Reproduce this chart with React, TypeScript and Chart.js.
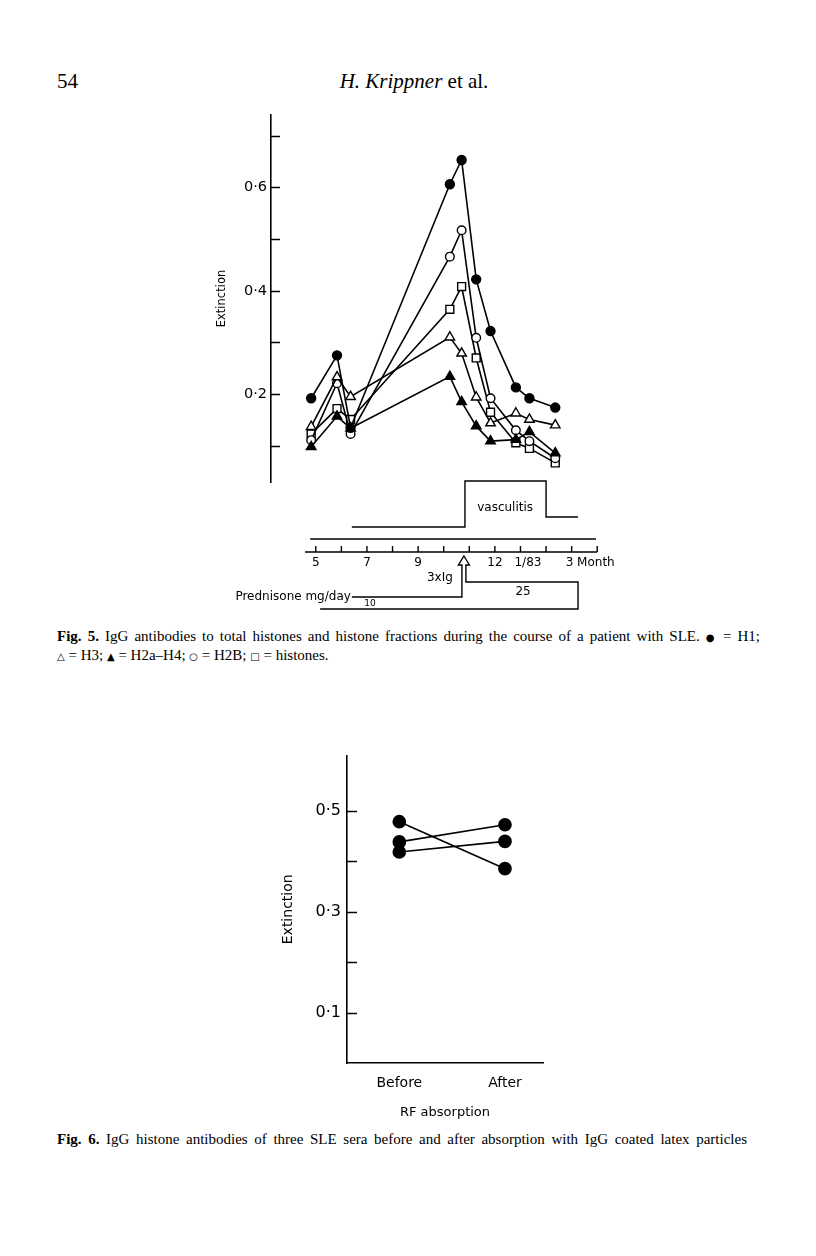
import React, { useEffect, useRef } from "react";
import { Chart, registerables } from "chart.js";

Chart.register(...registerables);
Chart.defaults.font.family = '"DejaVu Sans", sans-serif';
Chart.defaults.color = "#000";

// ---------- Fig. 5 data ----------
const sampleMonths = [4.82, 5.83, 6.36, 10.24, 10.7, 11.27, 11.83, 12.82, 13.35, 14.36];
const h1 = [0.192, 0.275, 0.135, 0.606, 0.653, 0.422, 0.322, 0.213, 0.192, 0.174];
const h3 = [0.137, 0.233, 0.195, 0.31, 0.279, 0.194, 0.144, 0.163, 0.151, 0.14];
const h2aH4 = [0.098, 0.157, 0.134, 0.234, 0.185, 0.138, 0.109, 0.112, 0.127, 0.086];
const h2b = [0.111, 0.221, 0.123, 0.466, 0.517, 0.309, 0.192, 0.13, 0.109, 0.076];
const histones = [0.123, 0.172, 0.151, 0.364, 0.408, 0.27, 0.165, 0.106, 0.095, 0.067];

const fig5YTickValues = [0.1, 0.2, 0.3, 0.4, 0.5, 0.6, 0.7];
const fig5YTickLabels = ["", "0·2", "", "0·4", "", "0·6", ""];

const monthTicks = [5, 6, 7, 8, 9, 10, 11, 12, 13, 14, 15, 16];
const monthLabelValues = [5, 7, 9, 12, 13, 15];
const monthLabels = ["5", "7", "9", "12", "1/83", "3 Month"];

const vasculitisBaseStart = 6.41;
const vasculitisStart = 10.83;
const vasculitisEnd = 14.0;
const vasculitisTailEnd = 15.25;
const vasculitisLabelAt = 12.4;
const igMonth = 10.79;
const prednisoneStart = 5.17;
const prednisoneEnd = 15.25;
const prednisoneDoses = ["10", "25"];
const prednisoneDoseAt = [7.12, 13.1];

// ---------- Fig. 6 data ----------
const rfCategories = ["Before", "After"];
const serumA = [0.478, 0.385];
const serumB = [0.438, 0.472];
const serumC = [0.418, 0.439];
const fig6YTickValues = [0.1, 0.2, 0.3, 0.4, 0.5];
const fig6YTickLabels = ["0·1", "", "0·3", "", "0·5"];

const fig5Series = [
  { label: "H1", values: h1, style: "circle", fill: "#000", r: 4.5 },
  { label: "H3", values: h3, style: "triangle", fill: "#fff", r: 5.5 },
  { label: "H2a-H4", values: h2aH4, style: "triangle", fill: "#000", r: 5.5 },
  { label: "H2B", values: h2b, style: "circle", fill: "#fff", r: 4.3 },
  { label: "histones", values: histones, style: "rect", fill: "#fff", r: 5.6 },
];

function labelFor(values: number[], labels: string[], v: number) {
  const i = values.findIndex((t) => Math.abs(t - v) < 1e-6);
  return i >= 0 ? labels[i] : "";
}

const inwardTicks = (len: number) => ({
  id: "inwardTicks",
  afterDraw(chart: any) {
    const { ctx, chartArea, scales } = chart;
    const y = scales.y;
    ctx.save();
    ctx.strokeStyle = "#000";
    ctx.lineWidth = 1.5;
    for (const t of y.ticks) {
      const yy = Math.round(y.getPixelForValue(t.value)) + 0.5;
      ctx.beginPath();
      ctx.moveTo(chartArea.left, yy);
      ctx.lineTo(chartArea.left + len, yy);
      ctx.stroke();
    }
    ctx.restore();
  },
});

const fig5Annotations = {
  id: "fig5Annotations",
  afterDraw(chart: any) {
    const { ctx, chartArea: ca, scales } = chart;
    const px = (m: number) => scales.x.getPixelForValue(m);
    const b = ca.bottom;
    const poly = (pts: number[][]) => {
      ctx.beginPath();
      pts.forEach((p, i) => (i ? ctx.lineTo(p[0], p[1]) : ctx.moveTo(p[0], p[1])));
      ctx.stroke();
    };
    ctx.save();
    ctx.strokeStyle = "#000";
    ctx.fillStyle = "#000";
    ctx.lineWidth = 1.4;
    ctx.lineJoin = "miter";

    // vasculitis trace
    poly([
      [px(vasculitisBaseStart), b + 45],
      [px(vasculitisStart), b + 45],
      [px(vasculitisStart), b - 1],
      [px(vasculitisEnd), b - 1],
      [px(vasculitisEnd), b + 35],
      [px(vasculitisTailEnd), b + 35],
    ]);
    ctx.font = '12px "DejaVu Sans"';
    ctx.textAlign = "center";
    ctx.textBaseline = "middle";
    ctx.fillText("vasculitis", px(vasculitisLabelAt), b + 26);

    // upper time line
    poly([[px(4.78), b + 57], [px(15.95), b + 57]]);
    // month axis
    poly([[px(4.58), b + 70], [px(16), b + 70]]);
    monthTicks.forEach((m) => poly([[px(m), b + 64], [px(m), b + 70]]));
    monthLabelValues.forEach((m, i) => {
      const txt = monthLabels[i];
      if (txt.length > 2) {
        ctx.textAlign = "left";
        ctx.fillText(txt, px(m) - 6, b + 81);
      } else {
        ctx.textAlign = "center";
        ctx.fillText(txt, px(m), b + 81);
      }
    });

    // 3 x Ig arrow and prednisone dose box
    const ax = px(igMonth);
    ctx.textAlign = "center";
    ctx.fillText("3xIg", ax - 24, b + 96);
    poly([
      [px(vasculitisBaseStart), b + 115],
      [ax - 2, b + 115],
      [ax - 2, b + 83],
      [ax - 5.5, b + 83],
      [ax, b + 74],
      [ax + 5.5, b + 83],
      [ax + 2, b + 83],
      [ax + 2, b + 100],
      [px(prednisoneEnd), b + 100],
      [px(prednisoneEnd), b + 127],
      [px(prednisoneStart), b + 127],
    ]);
    ctx.textAlign = "right";
    ctx.fillText("Prednisone mg/day", px(vasculitisBaseStart) - 1, b + 115);
    ctx.textAlign = "center";
    ctx.fillText(prednisoneDoses[1], px(prednisoneDoseAt[1]), b + 110);
    ctx.font = '9px "DejaVu Sans"';
    ctx.fillText(prednisoneDoses[0], px(prednisoneDoseAt[0]), b + 122);
    ctx.restore();
  },
};

function Fig5Chart() {
  const ref = useRef<HTMLCanvasElement>(null);
  useEffect(() => {
    const chart = new Chart(ref.current as HTMLCanvasElement, {
      type: "line",
      data: {
        datasets: fig5Series.map((s) => ({
          label: s.label,
          data: sampleMonths.map((m, i) => ({ x: m, y: s.values[i] })),
          borderColor: "#000",
          borderWidth: 1.6,
          backgroundColor: s.fill,
          pointBackgroundColor: s.fill,
          pointBorderColor: "#000",
          pointBorderWidth: 1.4,
          pointStyle: s.style as any,
          pointRadius: s.r,
          tension: 0,
          fill: false,
          clip: false as any,
        })),
      },
      options: {
        responsive: false,
        animation: false,
        events: [],
        layout: { padding: { top: 15, right: 20, bottom: 138, left: 0 } },
        plugins: { legend: { display: false }, tooltip: { enabled: false } },
        scales: {
          x: { type: "linear", min: 3.25, max: 16.89, display: false },
          y: {
            type: "linear",
            min: 0.03,
            max: 0.74,
            afterBuildTicks: (s: any) => {
              s.ticks = fig5YTickValues.map((v) => ({ value: v }));
            },
            afterFit: (s: any) => {
              s.width = 71;
            },
            grid: { display: false, drawTicks: false },
            border: { display: true, color: "#000", width: 1.6 },
            ticks: {
              color: "#000",
              font: { size: 14.5 },
              padding: 4,
              autoSkip: false,
              callback: (v: any) => labelFor(fig5YTickValues, fig5YTickLabels, Number(v)),
            },
            title: {
              display: true,
              text: "Extinction",
              color: "#000",
              font: { size: 11.5 },
              padding: { top: 15, bottom: 0 },
            },
          },
        },
      },
      plugins: [inwardTicks(9), fig5Annotations],
    } as any);
    return () => chart.destroy();
  }, []);
  return (
    <canvas
      ref={ref}
      width={440}
      height={520}
      style={{ position: "absolute", left: 200, top: 100, width: 440, height: 520 }}
    />
  );
}

function Fig6Chart() {
  const ref = useRef<HTMLCanvasElement>(null);
  useEffect(() => {
    const sera = [serumA, serumB, serumC];
    const chart = new Chart(ref.current as HTMLCanvasElement, {
      type: "line",
      data: {
        datasets: sera.map((vals, k) => ({
          label: "Serum " + (k + 1),
          data: vals.map((v, i) => ({ x: i, y: v })),
          borderColor: "#000",
          borderWidth: 1.7,
          pointBackgroundColor: "#000",
          pointBorderColor: "#000",
          pointRadius: 6,
          pointStyle: "circle",
          tension: 0,
          fill: false,
        })),
      },
      options: {
        responsive: false,
        animation: false,
        events: [],
        layout: { padding: { top: 15, right: 27, bottom: 6, left: 0 } },
        plugins: { legend: { display: false }, tooltip: { enabled: false } },
        scales: {
          x: {
            type: "linear",
            min: -0.495,
            max: 1.36,
            afterBuildTicks: (s: any) => {
              s.ticks = rfCategories.map((_, i) => ({ value: i }));
            },
            afterFit: (s: any) => {
              s.height = 61;
            },
            grid: { display: false, drawTicks: false },
            border: { display: true, color: "#000", width: 1.6 },
            ticks: {
              color: "#000",
              font: { size: 14 },
              padding: 12,
              maxRotation: 0,
              autoSkip: false,
              callback: (v: any) => rfCategories[Math.round(Number(v))] ?? "",
            },
            title: {
              display: true,
              text: "RF absorption",
              color: "#000",
              font: { size: 13 },
              padding: { top: 0, bottom: 4 },
            },
          },
          y: {
            type: "linear",
            min: 0,
            max: 0.609,
            afterBuildTicks: (s: any) => {
              s.ticks = fig6YTickValues.map((v) => ({ value: v }));
            },
            afterFit: (s: any) => {
              s.width = 87;
            },
            grid: { display: false, drawTicks: false },
            border: { display: true, color: "#000", width: 1.6 },
            ticks: {
              color: "#000",
              font: { size: 16 },
              padding: 6,
              autoSkip: false,
              callback: (v: any) => labelFor(fig6YTickValues, fig6YTickLabels, Number(v)),
            },
            title: {
              display: true,
              text: "Extinction",
              color: "#000",
              font: { size: 14 },
              padding: { top: 20, bottom: 0 },
            },
          },
        },
      },
      plugins: [inwardTicks(10)],
    } as any);
    return () => chart.destroy();
  }, []);
  return (
    <canvas
      ref={ref}
      width={310}
      height={390}
      style={{ position: "absolute", left: 260, top: 740, width: 310, height: 390 }}
    />
  );
}

const serif = '"Liberation Serif", "Times New Roman", serif';
const sym: React.CSSProperties = { fontSize: 10, fontFamily: '"DejaVu Sans", sans-serif' };

export default function App() {
  return (
    <div
      style={{
        position: "absolute",
        left: 0,
        top: 0,
        width: 816,
        height: 1256,
        background: "#fff",
        color: "#000",
        fontFamily: serif,
      }}
    >
      <div style={{ position: "absolute", left: 57, top: 69, fontSize: 21, lineHeight: "24px" }}>54</div>
      <div
        style={{
          position: "absolute",
          left: 314,
          top: 69,
          width: 200,
          textAlign: "center",
          fontSize: 21,
          lineHeight: "24px",
        }}
      >
        <i>H. Krippner</i> et al.
      </div>

      <Fig5Chart />

      <div
        style={{
          position: "absolute",
          left: 57,
          top: 627,
          width: 703,
          fontSize: 15,
          lineHeight: "19px",
          whiteSpace: "nowrap",
          textAlign: "justify",
          textAlignLast: "justify",
        }}
      >
        <b>Fig. 5.</b> IgG antibodies to total histones and histone fractions during the course of a patient with SLE.{" "}
        <span style={sym}>●</span> = H1;
      </div>
      <div style={{ position: "absolute", left: 57, top: 646, fontSize: 15, lineHeight: "19px" }}>
        <span style={sym}>△</span> = H3; <span style={sym}>▲</span> = H2a–H4; <span style={sym}>○</span> = H2B;{" "}
        <span style={sym}>□</span> = histones.
      </div>

      <Fig6Chart />

      <div
        style={{
          position: "absolute",
          left: 57,
          top: 1130,
          width: 690,
          fontSize: 15,
          lineHeight: "19px",
          whiteSpace: "nowrap",
          textAlign: "justify",
          textAlignLast: "justify",
        }}
      >
        <b>Fig. 6.</b> IgG histone antibodies of three SLE sera before and after absorption with IgG coated latex particles
      </div>
    </div>
  );
}
